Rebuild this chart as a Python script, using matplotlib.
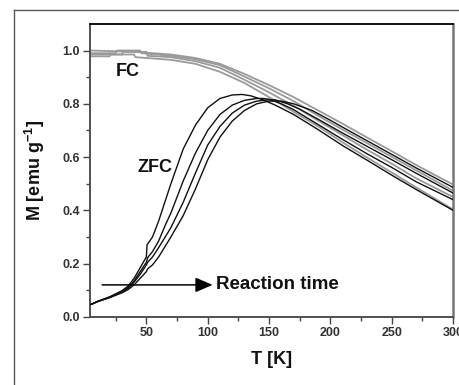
import matplotlib
matplotlib.use('Agg')
import matplotlib.pyplot as plt
from matplotlib.lines import Line2D

plt.rcParams['font.family'] = ['Liberation Sans', 'DejaVu Sans']
plt.rcParams['mathtext.fontset'] = 'custom'
plt.rcParams['mathtext.bf'] = 'Liberation Sans:bold'
plt.rcParams['mathtext.rm'] = 'Liberation Sans:bold'
plt.rcParams['mathtext.default'] = 'bf'

# field-cooled curves (grey), one per reaction time
FC_A_T = [5, 20, 21, 40, 41, 70, 90, 110, 130, 150, 170, 190, 210, 230, 250, 270, 300]
FC_A_M = [0.978, 0.978, 0.985, 0.985, 0.975, 0.965, 0.95, 0.92, 0.878, 0.825, 0.77,
          0.715, 0.655, 0.598, 0.542, 0.486, 0.403]
FC_B_T = [5, 30, 31, 50, 51, 70, 90, 110, 130, 150, 170, 190, 210, 230, 250, 270, 300]
FC_B_M = [0.985, 0.985, 0.995, 0.995, 0.98, 0.975, 0.96, 0.935, 0.89, 0.843, 0.792,
          0.737, 0.682, 0.627, 0.575, 0.52, 0.45]
FC_C_T = [5, 25, 26, 45, 46, 70, 90, 110, 130, 150, 170, 190, 210, 230, 250, 270, 300]
FC_C_M = [0.99, 0.99, 1.0, 1.0, 0.99, 0.98, 0.967, 0.945, 0.902, 0.858, 0.81,
          0.755, 0.703, 0.652, 0.601, 0.55, 0.474]
FC_D_T = [5, 40, 70, 90, 110, 130, 150, 170, 190, 210, 230, 250, 270, 285, 300]
FC_D_M = [1.0, 0.995, 0.985, 0.972, 0.95, 0.912, 0.87, 0.825, 0.775, 0.725, 0.673,
          0.622, 0.57, 0.533, 0.497]

# zero-field-cooled curves (black)
ZFC_A_T = [5, 10, 20, 30, 35, 40, 45, 50, 50.5, 55, 60, 65, 70, 80, 90, 100, 110, 120,
           128, 135, 145, 155, 170, 190, 210, 230, 250, 270, 300]
ZFC_A_M = [0.047, 0.058, 0.075, 0.098, 0.115, 0.145, 0.185, 0.225, 0.27, 0.30, 0.36,
           0.43, 0.50, 0.63, 0.72, 0.785, 0.82, 0.833, 0.835, 0.83, 0.815, 0.795, 0.76,
           0.703, 0.643, 0.588, 0.532, 0.478, 0.40]
ZFC_B_T = [5, 10, 20, 30, 35, 40, 45, 50, 51, 55, 60, 65, 70, 75, 80, 90, 100, 110, 120,
           130, 140, 145, 150, 160, 170, 190, 210, 230, 250, 270, 300]
ZFC_B_M = [0.047, 0.057, 0.074, 0.095, 0.11, 0.135, 0.17, 0.205, 0.222, 0.245, 0.285,
           0.34, 0.39, 0.45, 0.51, 0.615, 0.70, 0.76, 0.795, 0.813, 0.82, 0.82, 0.817,
           0.80, 0.778, 0.722, 0.666, 0.612, 0.561, 0.507, 0.44]
ZFC_C_T = [5, 10, 20, 30, 35, 40, 45, 50, 51, 55, 60, 70, 80, 90, 100, 110, 120, 130,
           140, 150, 155, 165, 175, 190, 210, 230, 250, 270, 300]
ZFC_C_M = [0.047, 0.057, 0.073, 0.093, 0.107, 0.13, 0.16, 0.195, 0.205, 0.225, 0.26,
           0.335, 0.43, 0.54, 0.645, 0.715, 0.765, 0.795, 0.81, 0.815, 0.815, 0.80,
           0.78, 0.742, 0.69, 0.64, 0.59, 0.539, 0.465]
ZFC_D_T = [5, 10, 20, 30, 35, 40, 45, 50, 51, 55, 60, 70, 80, 90, 100, 110, 120, 130,
           140, 150, 160, 170, 185, 200, 210, 230, 250, 270, 300]
ZFC_D_M = [0.047, 0.057, 0.072, 0.09, 0.102, 0.12, 0.145, 0.17, 0.18, 0.195, 0.225,
           0.30, 0.38, 0.48, 0.59, 0.675, 0.735, 0.775, 0.80, 0.81, 0.81, 0.80, 0.775,
           0.738, 0.712, 0.661, 0.61, 0.559, 0.486]

FC = [(FC_A_T, FC_A_M), (FC_B_T, FC_B_M), (FC_C_T, FC_C_M), (FC_D_T, FC_D_M)]
ZFC = [(ZFC_A_T, ZFC_A_M), (ZFC_B_T, ZFC_B_M), (ZFC_C_T, ZFC_C_M), (ZFC_D_T, ZFC_D_M)]

fig = plt.figure(figsize=(4.59, 3.85), dpi=100)
ax = fig.add_axes([0.196, 0.177, 0.791, 0.761])

for t, m in FC:
    ax.plot(t, m, color='#9a9a9a', lw=1.3, zorder=2)
for t, m in ZFC:
    ax.plot(t, m, color='#111111', lw=1.0, zorder=3)

ax.annotate('', xy=(104, 0.12), xytext=(14, 0.12),
            arrowprops=dict(arrowstyle='-|>,head_length=0.7,head_width=0.3',
                            mutation_scale=15, color='black', lw=1.1,
                            shrinkA=0, shrinkB=0))
ax.text(106.5, 0.12, 'Reaction time', fontsize=13.5, fontweight='bold',
        ha='left', va='center', color='#111111')
ax.text(34.6, 0.92, 'FC', fontsize=13, fontweight='bold', ha='center', va='center',
        color='#111111')
ax.text(57, 0.56, 'ZFC', fontsize=13, fontweight='bold', ha='center', va='center',
        color='#111111')

ax.set_xlim(4, 300)
ax.set_ylim(0, 1.1)
ax.set_xticks([50, 100, 150, 200, 250, 300])
ax.set_xticks([25, 75, 125, 175, 225, 275], minor=True)
ax.set_yticks([0.0, 0.2, 0.4, 0.6, 0.8, 1.0])
ax.set_yticks([0.1, 0.3, 0.5, 0.7, 0.9], minor=True)
ax.set_yticklabels(['0.0', '0.2', '0.4', '0.6', '0.8', '1.0'])
ax.tick_params(which='both', direction='out', top=False, right=False,
               color='#444444', width=1.0, labelsize=9, labelcolor='#333333')
ax.tick_params(which='major', length=5, pad=2)
ax.tick_params(which='minor', length=3)
for lab in ax.get_xticklabels() + ax.get_yticklabels():
    lab.set_fontweight('bold')

for side in ['left', 'bottom']:
    ax.spines[side].set_color('#505050')
    ax.spines[side].set_linewidth(1.4)
ax.spines['top'].set_color('#111111')
ax.spines['top'].set_linewidth(1.4)
ax.spines['right'].set_color('#777777')
ax.spines['right'].set_linewidth(1.8)

ax.set_xlabel('T [K]', fontsize=13, fontweight='bold', labelpad=9, color='#111111')
ax.set_ylabel(r'M [emu g$^{-1}$]', fontsize=13, fontweight='bold', labelpad=11,
              color='#111111')

# outer frame of the original panel (cropped at right and bottom)
fig.add_artist(Line2D([14 / 459, 14 / 459], [0, 1 - 10 / 385], color='#555555', lw=1.0))
fig.add_artist(Line2D([14 / 459, 1], [1 - 10 / 385, 1 - 10 / 385], color='#555555', lw=1.0))

fig.savefig('out.png', dpi=100)
